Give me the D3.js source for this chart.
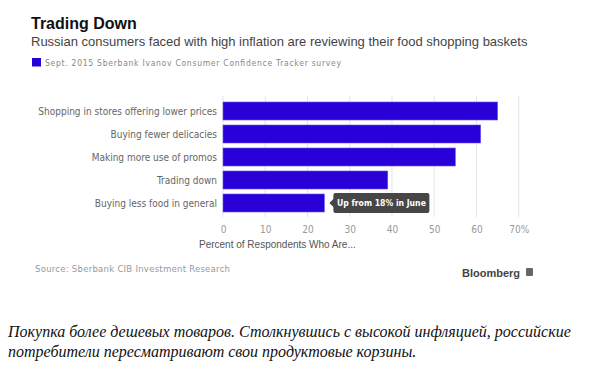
<!DOCTYPE html>
<html>
<head>
<meta charset="utf-8">
<script src="https://cdn.jsdelivr.net/npm/d3@7"></script>
<style>
  html, body { margin: 0; padding: 0; background: #fff; }
  svg { display: block; }
  .cond { font-family: 'DejaVu Sans Condensed', 'DejaVu Sans', sans-serif; font-stretch: condensed; }
</style>
</head>
<body>
<script>
  // Chart data.
  var categories = [
    "Shopping in stores offering lower prices",
    "Buying fewer delicacies",
    "Making more use of promos",
    "Trading down",
    "Buying less food in general"
  ];
  var values = [65, 61, 55, 39, 24];
  var tickValues = [0, 10, 20, 30, 40, 50, 60, 70];
  var seriesName = "Sept. 2015 Sberbank Ivanov Consumer Confidence Tracker survey";
  var noteIndex = 4;
  var noteText = "Up from 18% in June";

  var width = 606, height = 370;
  var sans = "'Liberation Sans', Arial, sans-serif";
  var barColor = "#2a00d8";

  var svg = d3.select("body").append("svg")
    .attr("width", width)
    .attr("height", height);

  svg.append("rect").attr("width", width).attr("height", height).attr("fill", "#fff");

  // Header.
  svg.append("text")
    .attr("x", 31).attr("y", 29)
    .style("font-family", sans).style("font-size", "16px").style("font-weight", "bold")
    .attr("fill", "#111")
    .text("Trading Down");

  svg.append("text")
    .attr("x", 31).attr("y", 46)
    .style("font-family", sans).style("font-size", "13px")
    .attr("fill", "#444")
    .text("Russian consumers faced with high inflation are reviewing their food shopping baskets");

  // Legend.
  svg.append("rect")
    .attr("x", 32).attr("y", 58).attr("width", 9).attr("height", 8.5)
    .attr("fill", barColor);
  svg.append("text")
    .attr("class", "cond")
    .attr("x", 45).attr("y", 66)
    .attr("textLength", 296).attr("lengthAdjust", "spacing")
    .style("font-size", "8.5px")
    .attr("fill", "#888")
    .text(seriesName);

  // Scales.
  var x = d3.scaleLinear().domain([0, 70]).range([223, 518.7]);
  var y = d3.scaleBand().domain(categories).range([102, 212])
    .paddingInner(5 / 23).paddingOuter(0);

  // Grid lines.
  svg.append("g")
    .selectAll("line")
    .data(tickValues)
    .enter().append("line")
    .attr("x1", d => x(d)).attr("x2", d => x(d))
    .attr("y1", 96).attr("y2", 217)
    .attr("stroke", "#e4e4ec").attr("stroke-width", 1);

  // Bars.
  svg.append("g")
    .selectAll("rect")
    .data(values)
    .enter().append("rect")
    .attr("x", x(0))
    .attr("y", (d, i) => y(categories[i]))
    .attr("width", d => x(d) - x(0))
    .attr("height", y.bandwidth())
    .attr("fill", barColor)
    .attr("stroke", "#6a55ee").attr("stroke-width", 0.6);

  // Category labels.
  svg.append("g")
    .selectAll("text")
    .data(categories)
    .enter().append("text")
    .attr("class", "cond")
    .attr("x", 217)
    .attr("y", d => y(d) + y.bandwidth() / 2 + 3.5)
    .attr("text-anchor", "end")
    .style("font-size", "10px")
    .attr("fill", "#666")
    .text(d => d);

  // X axis.
  var xAxis = d3.axisBottom(x)
    .tickValues(tickValues)
    .tickSize(0)
    .tickPadding(0)
    .tickFormat(d => d === 70 ? d + "%" : d);
  var axisG = svg.append("g")
    .attr("transform", "translate(0,226)")
    .call(xAxis);
  axisG.select(".domain").remove();
  axisG.selectAll("text")
    .attr("class", "cond")
    .attr("dy", "0.71em")
    .style("font-size", "10px")
    .attr("fill", "#999");

  svg.append("text")
    .attr("x", 199).attr("y", 248)
    .style("font-family", sans).style("font-size", "10px")
    .attr("fill", "#555")
    .text("Percent of Respondents Who Are...");

  // Annotation on the last bar.
  var nx = x(values[noteIndex]) + 5;
  var ny = y(categories[noteIndex]) + y.bandwidth() / 2;
  var note = svg.append("g").attr("transform", "translate(" + nx + "," + ny + ")");
  note.append("path")
    .attr("d", "M0,0 L5,-5 L5,5 Z")
    .attr("fill", "#464646");
  note.append("rect")
    .attr("x", 4).attr("y", -10).attr("width", 96).attr("height", 20).attr("rx", 2)
    .attr("fill", "#464646");
  note.append("text")
    .attr("class", "cond")
    .attr("x", 7.5).attr("y", 3.3)
    .attr("textLength", 89).attr("lengthAdjust", "spacingAndGlyphs")
    .style("font-size", "9px").style("font-weight", "bold")
    .attr("fill", "#fff")
    .text(noteText);

  // Footer.
  svg.append("text")
    .attr("class", "cond")
    .attr("x", 35).attr("y", 272)
    .attr("textLength", 195).attr("lengthAdjust", "spacing")
    .style("font-size", "9.5px")
    .attr("fill", "#999")
    .text("Source: Sberbank CIB Investment Research");

  svg.append("text")
    .attr("x", 462).attr("y", 277)
    .style("font-family", sans).style("font-size", "11px").style("font-weight", "bold")
    .attr("fill", "#444")
    .text("Bloomberg");
  svg.append("rect")
    .attr("x", 526).attr("y", 268).attr("width", 7).attr("height", 8).attr("rx", 1)
    .attr("fill", "#666");

  // Caption below the chart.
  var caption = svg.append("text")
    .style("font-family", "'Liberation Serif', 'DejaVu Serif', serif")
    .style("font-size", "16px").style("font-style", "italic")
    .attr("fill", "#111");
  caption.append("tspan").attr("x", 8).attr("y", 337)
    .text("Покупка более дешевых товаров. Столкнувшись с высокой инфляцией, российские");
  caption.append("tspan").attr("x", 8).attr("y", 356.5)
    .text("потребители пересматривают свои продуктовые корзины.");
</script>
</body>
</html>
